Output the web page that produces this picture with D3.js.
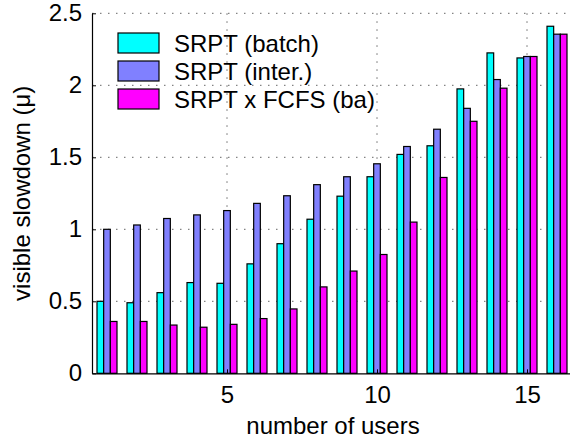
<!DOCTYPE html>
<html>
<head>
<meta charset="utf-8">
<script src="https://cdn.jsdelivr.net/npm/d3@7"></script>
<style>
  body { margin: 0; background: #fff; }
  svg { display: block; font-family: 'Liberation Sans', Arial, Helvetica, sans-serif; }
</style>
</head>
<body>
<div class="chart-node"></div>
<script>
const width = 570, height = 440

// data
const users = d3.range(1, 17)
const seriesNames = ['SRPT (batch)', 'SRPT (inter.)', 'SRPT x FCFS (ba)']
const seriesColors = ['#00ffff', '#8080ff', '#ff00ff']
const batch = [0.50, 0.49, 0.56, 0.63, 0.625, 0.76, 0.90, 1.07, 1.23, 1.365, 1.52, 1.58, 1.975, 2.225, 2.19, 2.41]
const inter = [1.00, 1.03, 1.075, 1.10, 1.13, 1.18, 1.233, 1.31, 1.365, 1.455, 1.575, 1.695, 1.84, 2.04, 2.20, 2.355]
const batchFcfs = [0.36, 0.36, 0.335, 0.32, 0.34, 0.38, 0.447, 0.60, 0.71, 0.825, 1.05, 1.36, 1.75, 1.98, 2.20, 2.355]
const xTicks = [5, 10, 15]
const yTicks = [0, 0.5, 1, 1.5, 2, 2.5]

const seriesValues = [batch, inter, batchFcfs]

const margin = { left: 92, top: 13.3, bottom: 373.3, right: 572 }

const svg = d3.select('.chart-node').append('svg')
    .attr('width', width)
    .attr('height', height)

const x = d3.scaleLinear().domain([0.5, 16.5]).range([margin.left, margin.right])
const y = d3.scaleLinear().domain([0, 2.5]).range([margin.bottom, margin.top])

// offset of each series inside a group, in user units
const offset = d3.scaleBand().domain(d3.range(seriesNames.length)).range([-1 / 3, 1 / 3])

// grid
const grid = svg.append('g').attr('class', 'grid')
    .attr('stroke', '#666')
    .attr('stroke-width', 1)
    .attr('stroke-dasharray', '1.5,6.5')

grid.selectAll('.hgrid')
    .data(yTicks.filter(d => d > 0))
    .enter().append('line')
    .attr('x1', margin.left)
    .attr('x2', margin.right)
    .attr('y1', d => y(d))
    .attr('y2', d => y(d))

grid.selectAll('.vgrid')
    .data(xTicks)
    .enter().append('line')
    .attr('x1', d => x(d))
    .attr('x2', d => x(d))
    .attr('y1', margin.top)
    .attr('y2', margin.bottom)

// bars
const barData = []
seriesValues.forEach((vals, s) => {
    vals.forEach((v, i) => barData.push({ s: s, u: users[i], v: v }))
})

svg.append('g').attr('class', 'bars')
    .selectAll('rect')
    .data(barData)
    .enter().append('rect')
    .attr('x', d => x(d.u + offset(d.s)))
    .attr('width', d => x(d.u + offset(d.s) + offset.bandwidth()) - x(d.u + offset(d.s)))
    .attr('y', d => y(d.v))
    .attr('height', d => y(0) - y(d.v))
    .attr('fill', d => seriesColors[d.s])
    .attr('stroke', '#000')
    .attr('stroke-width', 1.2)

// axes
const yAxis = svg.append('g')
    .attr('transform', 'translate(' + margin.left + ',0)')
    .call(d3.axisLeft(y).tickValues(yTicks).tickSize(-4).tickPadding(10).tickSizeOuter(0)
        .tickFormat(d3.format('')))
const xAxis = svg.append('g')
    .attr('transform', 'translate(0,' + margin.bottom + ')')
    .call(d3.axisBottom(x).tickValues(xTicks).tickSize(-4).tickPadding(13).tickSizeOuter(0))

svg.selectAll('.domain').attr('stroke', '#000').attr('stroke-width', 1.2)
svg.selectAll('.tick line').attr('stroke', '#000')
svg.selectAll('.tick text')
    .style('font-family', "'Liberation Sans', Arial, sans-serif")
    .style('font-size', '24px')
    .attr('fill', '#000')

// axis labels
svg.append('text')
    .text('number of users')
    .attr('x', (margin.left + 570) / 2 + 2)
    .attr('y', 434)
    .style('text-anchor', 'middle')
    .style('font-size', '24px')

svg.append('text')
    .text('visible slowdown (\u03bc)')
    .attr('transform', 'translate(30,' + (margin.top + margin.bottom) / 2 + ') rotate(-90)')
    .style('text-anchor', 'middle')
    .style('font-size', '24px')

// legend
const legend = svg.append('g').attr('class', 'legend')
    .selectAll('g')
    .data(seriesNames)
    .enter().append('g')
    .attr('transform', (d, i) => 'translate(118,' + (33 + i * 28) + ')')

legend.append('rect')
    .attr('width', 41)
    .attr('height', 20)
    .attr('fill', (d, i) => seriesColors[i])
    .attr('stroke', '#000')
    .attr('stroke-width', 1.2)

legend.append('text')
    .text(d => d)
    .attr('x', 56)
    .attr('y', 19)
    .style('font-size', '24px')
</script>
</body>
</html>
